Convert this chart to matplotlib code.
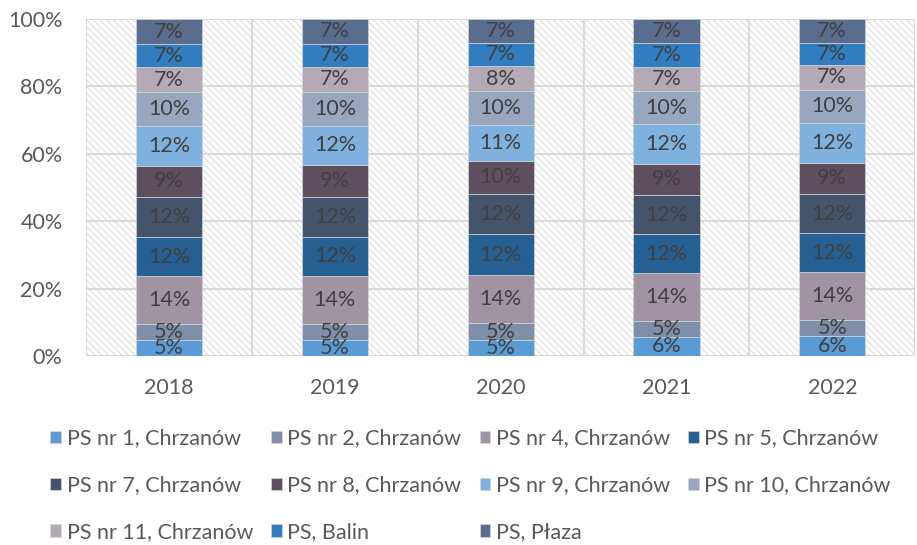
import matplotlib
matplotlib.use('Agg')
import matplotlib.pyplot as plt
from matplotlib.patches import Rectangle
import numpy as np

plt.rcParams['font.family'] = ['Lato', 'DejaVu Sans']
plt.rcParams['hatch.linewidth'] = 0.8

years = ['2018', '2019', '2020', '2021', '2022']

# shares of each station (%)
ps1 = [4.6, 4.6, 4.6, 5.7, 6.0]
ps2 = [4.8, 4.8, 5.2, 4.7, 4.7]
ps4 = [14.3, 14.3, 14.3, 14.1, 14.1]
ps5 = [11.6, 11.7, 12.0, 11.6, 11.6]
ps7 = [11.8, 11.8, 12.1, 11.7, 11.6]
ps8 = [9.4, 9.4, 9.7, 9.3, 9.4]
ps9 = [11.8, 11.8, 10.6, 11.7, 11.7]
ps10 = [10.0, 10.0, 10.0, 9.8, 9.9]
ps11 = [7.4, 7.4, 7.6, 7.3, 7.4]
balin = [6.9, 6.9, 6.8, 6.9, 6.6]
plaza = [7.4, 7.3, 7.1, 7.2, 7.0]

names = ['PS nr 1, Chrzanów', 'PS nr 2, Chrzanów', 'PS nr 4, Chrzanów', 'PS nr 5, Chrzanów',
         'PS nr 7, Chrzanów', 'PS nr 8, Chrzanów', 'PS nr 9, Chrzanów', 'PS nr 10, Chrzanów',
         'PS nr 11, Chrzanów', 'PS, Balin', 'PS, Płaza']
series = [ps1, ps2, ps4, ps5, ps7, ps8, ps9, ps10, ps11, balin, plaza]
colors = ['#5b9bd5', '#7f8fa9', '#a094a3', '#265f92', '#44546b', '#5e4f5e',
          '#7fb1de', '#98a6be', '#b4aab6', '#327dc0', '#5b6d8e']

data = np.array(series, dtype=float)
data = data / data.sum(axis=0) * 100

fig = plt.figure(figsize=(9.17, 5.45), dpi=100)
ax = fig.add_axes([0.094, 0.347, 0.904, 0.618])

x = np.arange(len(years))
ax.set_xlim(-0.5, len(years) - 0.5)
ax.set_ylim(0, 100)

# hatched plot area background
ax.add_patch(Rectangle((0, 0), 1, 1, transform=ax.transAxes, facecolor='white',
                       edgecolor='#dcdcdc', hatch='\\\\\\\\\\', linewidth=0, zorder=0))

bottom = np.zeros(len(years))
handles = []
for vals, name, col in zip(data, names, colors):
    bars = ax.bar(x, vals, 0.4, bottom=bottom, color=col, label=name,
                  edgecolor='#d0d6e0', linewidth=0.5, zorder=3)
    ax.bar_label(bars, labels=[f'{v:.0f}%' for v in vals], label_type='center',
                 fontsize=15.5, color='#404040', zorder=4)
    handles.append(bars)
    bottom += vals

ax.set_yticks(np.arange(0, 101, 20))
ax.set_yticklabels([f'{v}%' for v in range(0, 101, 20)])
ax.set_xticks(x)
ax.set_xticklabels(years)
ax.set_xticks(np.arange(-0.5, len(years)), minor=True)
ax.tick_params(axis='both', which='both', length=0, labelsize=15.5, colors='#595959')
ax.tick_params(axis='x', pad=16)
ax.tick_params(axis='y', pad=17)
ax.grid(axis='y', color='#d9d9d9', linewidth=1.5, zorder=1)
ax.grid(axis='x', which='minor', color='#d9d9d9', linewidth=1.5, zorder=1)
for s in ax.spines.values():
    s.set_visible(False)

# legend filled row by row like the original
order = [0, 4, 8, 1, 5, 9, 2, 6, 10, 3, 7]
fig.legend([handles[i] for i in order], [names[i] for i in order], ncol=4,
           loc='upper left', bbox_to_anchor=(0.055, 0.214), frameon=False,
           fontsize=15.5, labelcolor='#595959', handlelength=0.5, handleheight=0.5,
           handletextpad=0.25, columnspacing=0.85, labelspacing=1.25,
           borderaxespad=0, borderpad=0)

fig.savefig('out.png', dpi=100)
